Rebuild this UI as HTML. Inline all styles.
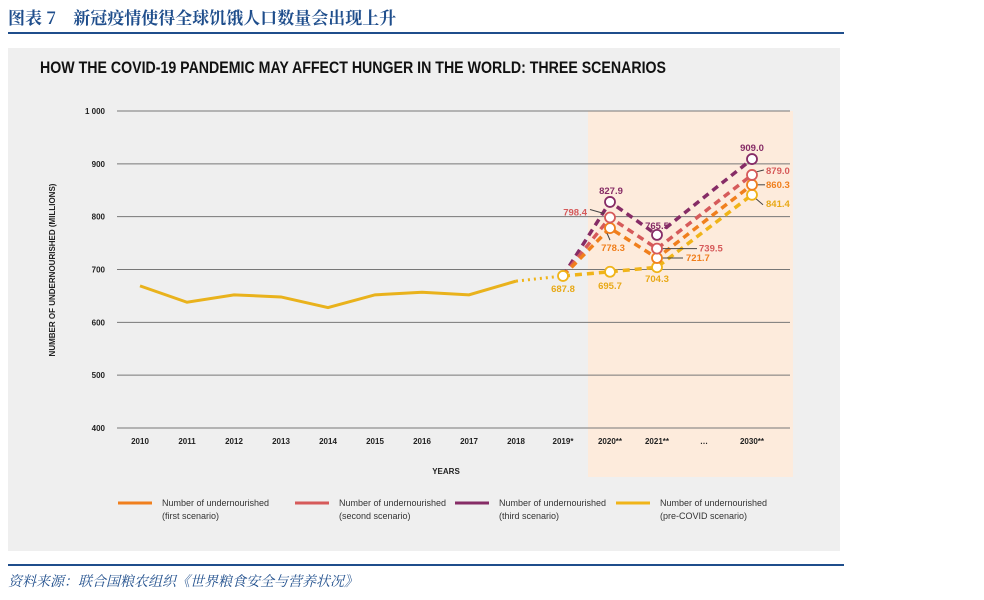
<!DOCTYPE html>
<html><head><meta charset="utf-8"><style>
body{margin:0;width:984px;height:595px;background:#fff;overflow:hidden;font-family:"Liberation Sans","Noto Sans CJK SC",sans-serif}
</style></head><body>
<svg width="984" height="595" xmlns="http://www.w3.org/2000/svg">
<text x="8" y="24" font-size="17" font-weight="bold" fill="#1f4e8c" font-family="'Noto Serif CJK SC',serif">图表 7　新冠疫情使得全球饥饿人口数量会出现上升</text>
<rect x="8" y="32" width="836" height="2" fill="#1f4e8c"/>
<rect x="8" y="48" width="832" height="503" fill="#efefef"/>
<text x="40" y="73" font-size="17" font-weight="bold" fill="#111" textLength="626" lengthAdjust="spacingAndGlyphs">HOW THE COVID-19 PANDEMIC MAY AFFECT HUNGER IN THE WORLD: THREE SCENARIOS</text>
<rect x="588" y="111" width="205" height="366" fill="#fdebdc"/>
<g id="grid"></g><g id="marks"></g>
<text x="0" y="0" transform="translate(55,270) rotate(-90)" font-size="8" font-weight="bold" text-anchor="middle" fill="#222">NUMBER OF UNDERNOURISHED (MILLIONS)</text>
<text x="446" y="474" font-size="8" font-weight="bold" text-anchor="middle" fill="#222">YEARS</text>
<g font-size="9" fill="#333">
<line x1="118" y1="503" x2="152" y2="503" stroke="#f07f1d" stroke-width="3"/>
<text x="162" y="506">Number of undernourished</text><text x="162" y="519">(first scenario)</text>
<line x1="295" y1="503" x2="329" y2="503" stroke="#d65a5a" stroke-width="3"/>
<text x="339" y="506">Number of undernourished</text><text x="339" y="519">(second scenario)</text>
<line x1="455" y1="503" x2="489" y2="503" stroke="#862c66" stroke-width="3"/>
<text x="499" y="506">Number of undernourished</text><text x="499" y="519">(third scenario)</text>
<line x1="616" y1="503" x2="650" y2="503" stroke="#f0b419" stroke-width="3"/>
<text x="660" y="506">Number of undernourished</text><text x="660" y="519">(pre-COVID scenario)</text>
</g>
<rect x="8" y="564" width="836" height="2" fill="#1f4e8c"/>
<text x="8" y="586" font-size="14" font-style="italic" fill="#1f4e8c" font-family="'Noto Serif CJK SC',serif">资料来源：联合国粮农组织《世界粮食安全与营养状况》</text>
</svg>
<script>
const yTicks=[400,500,600,700,800,900,1000];
const yTickLabels=["400","500","600","700","800","900","1 000"];
const xLabels=["2010","2011","2012","2013","2014","2015","2016","2017","2018","2019*","2020**","2021**","…","2030**"];
const histValues=[669,638,652,648,628,652,657,652,678];
const bridge=[678,687.8];
const preCovid=[687.8,695.7,704.3,841.4];
const first=[687.8,778.3,721.7,860.3];
const second=[687.8,798.4,739.5,879.0];
const third=[687.8,827.9,765.5,909.0];
const NS="http://www.w3.org/2000/svg";
function y(v){return 428-(v-400)*317/600;}
function x(i){return i===13?752:140+i*47;}
const projIdx=[9,10,11,13];
function mk(t,a,p){const e=document.createElementNS(NS,t);for(const k in a)e.setAttribute(k,a[k]);(p||document.getElementById('marks')).appendChild(e);return e;}
const g=document.getElementById('grid');
yTicks.forEach((v,i)=>{
 const l=mk('line',{x1:117,x2:790,y1:y(v),y2:y(v),stroke:'#777','stroke-width':1},g);
 
 
 const t=mk('text',{x:105,y:y(v)+3,'font-size':8,'font-weight':'bold','text-anchor':'end',fill:'#222'},g);t.textContent=yTickLabels[i];
 
 
});
xLabels.forEach((s,i)=>{
 const t=mk('text',{x:x(i),y:444,'font-size':8,'font-weight':'bold','text-anchor':'middle',fill:'#222'},g);t.textContent=s;
 
 
});
const hp=mk('polyline',{points:histValues.map((v,i)=>x(i)+','+y(v)).join(' '),fill:'none',stroke:'#e9b21c','stroke-width':3});


const bp=mk('polyline',{points:x(8)+','+y(bridge[0])+' '+x(9)+','+y(bridge[1]),fill:'none',stroke:'#f0b419','stroke-width':3,'stroke-dasharray':'2 4'});


const series=[[preCovid,'#f0b419','precovid'],[first,'#f07f1d','first'],[second,'#d65a5a','second'],[third,'#862c66','third']];
series.slice().reverse().forEach(([vals,c,n])=>{
 const p=mk('polyline',{points:vals.map((v,i)=>x(projIdx[i])+','+y(v)).join(' '),fill:'none',stroke:c,'stroke-width':3.5,'stroke-dasharray':'7 5'});
 
 
});
// leader lines: [series, index, x1 offset, y1 offset, x2 offset, y2 offset]
const leaders=[[second,1,-6,-4,-20,-8],[first,1,-3,5,0,12],[second,2,5,0,40,0],[first,2,5,0,26,0],[second,3,4,-3,12,-5],[first,3,5,0,13,0],[preCovid,3,4,4,11,10]];
leaders.forEach(([s,i,a,b,c2,d])=>{
 const cx=x(projIdx[i]),cy=y(s[i]);
 const l=mk('line',{x1:cx+a,y1:cy+b,x2:cx+c2,y2:cy+d,stroke:'#444','stroke-width':1});
 
 
});
series.forEach(([vals,c,n])=>{
 vals.forEach((v,i)=>{
  if(i===0&&n!=='precovid')return;
  const ci=mk('circle',{cx:x(projIdx[i]),cy:y(v),r:5,fill:'#fff',stroke:c,'stroke-width':1.8});
  
  
 });
});
// value labels: [series, index, dx, dy, anchor, colour]
const lbl=[[preCovid,0,0,16,'middle','#e8a917'],[preCovid,1,0,17,'middle','#e8a917'],[preCovid,2,0,15,'middle','#e8a917'],[preCovid,3,14,12,'start','#e8a917'],
[first,1,3,23,'middle','#f07f1d'],[first,2,29,3,'start','#f07f1d'],[first,3,14,3,'start','#f07f1d'],
[second,1,-23,-2,'end','#d65a5a'],[second,2,42,3,'start','#d65a5a'],[second,3,14,-1,'start','#d65a5a'],
[third,1,1,-8,'middle','#862c66'],[third,2,0,-6,'middle','#862c66'],[third,3,0,-8,'middle','#862c66']];
lbl.forEach(([s,i,dx,dy,a,c])=>{
 const t=mk('text',{x:x(projIdx[i])+dx,y:y(s[i])+dy,'font-size':9.5,'font-weight':'bold','text-anchor':a,fill:c});
 t.textContent=s[i].toFixed(1);
 
 
});
</script>
</body></html>
